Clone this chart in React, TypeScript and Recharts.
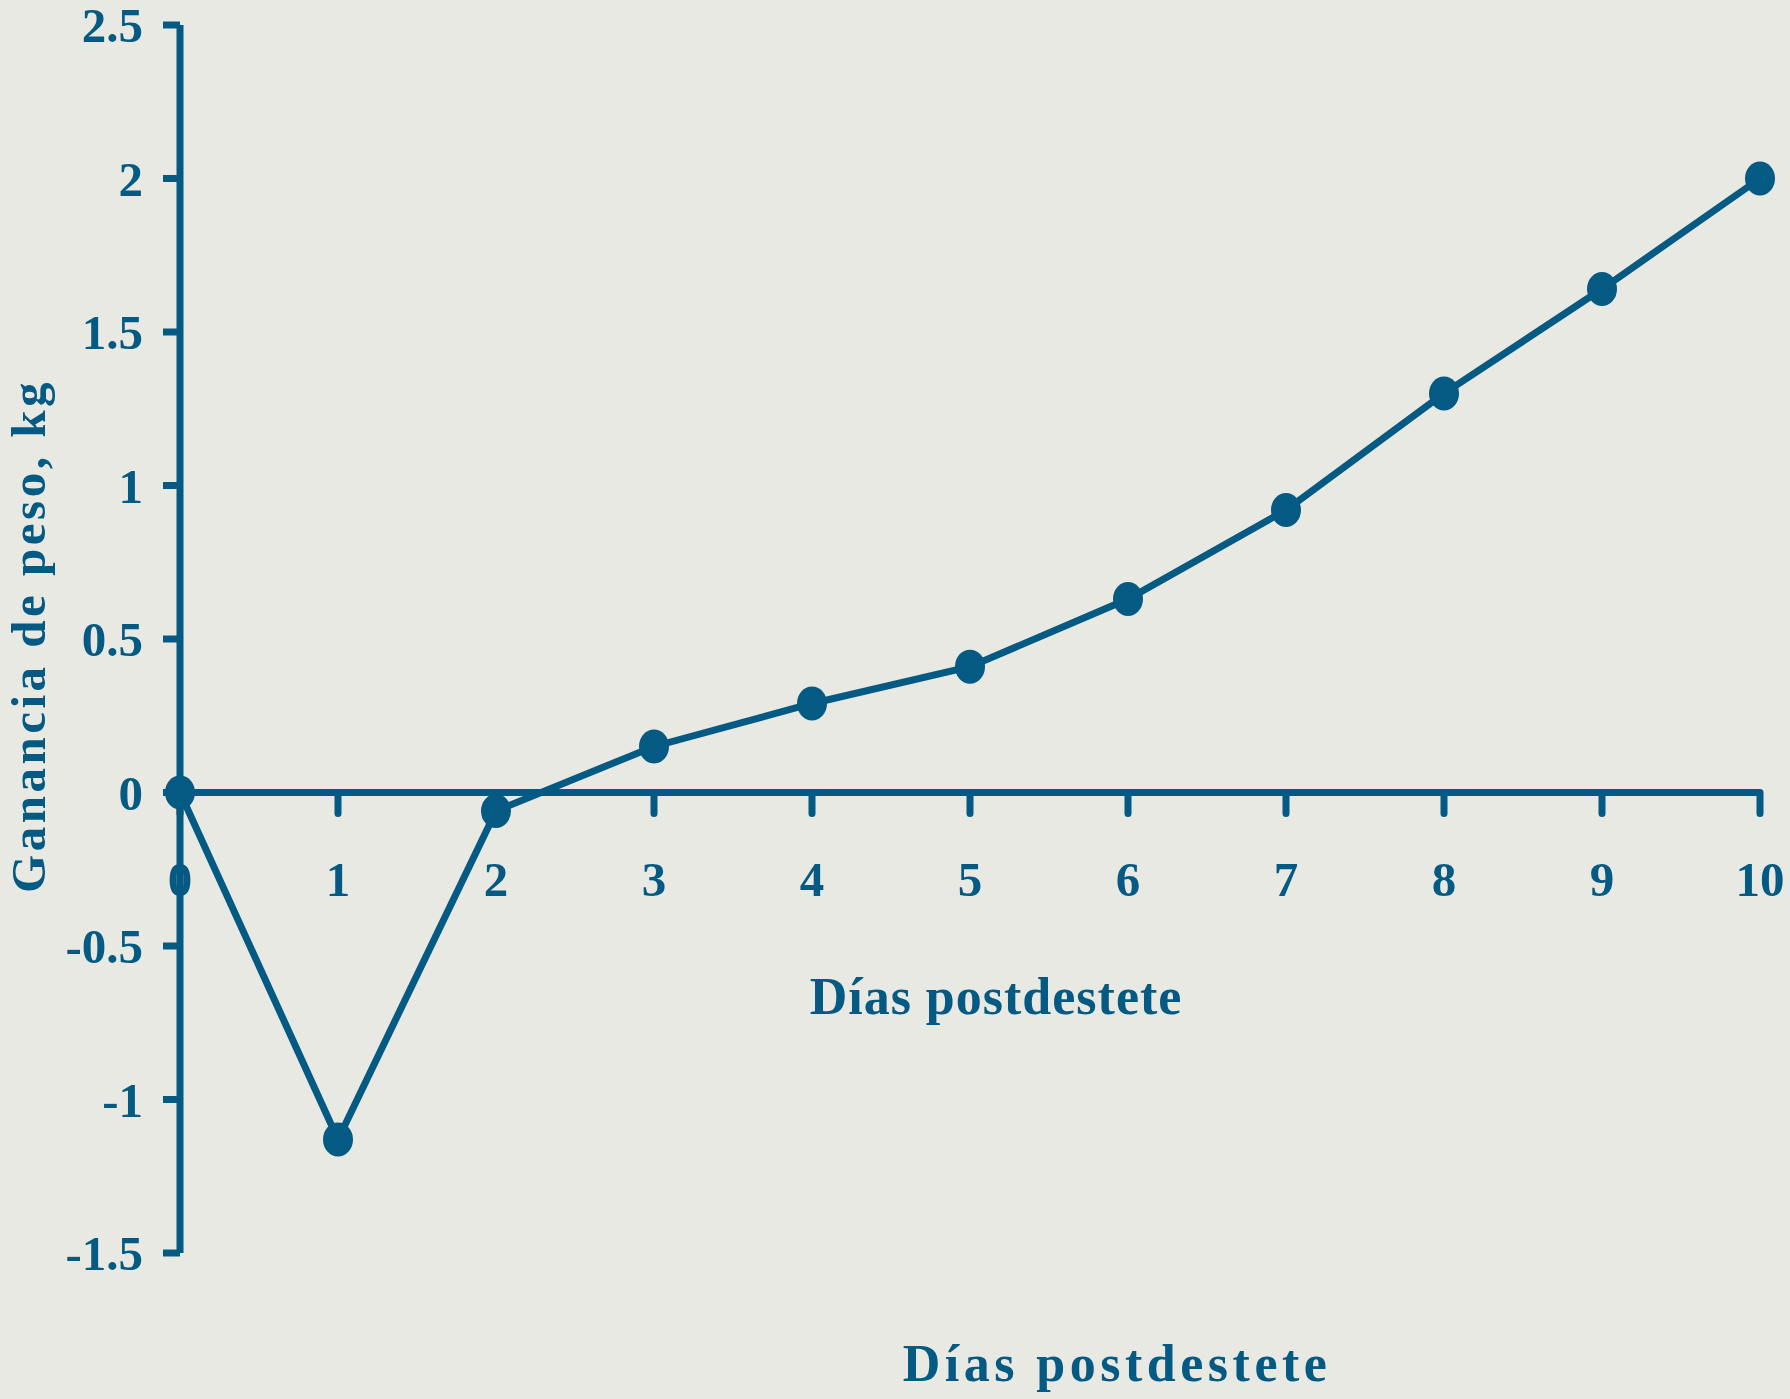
import React from "react";
import {
  LineChart,
  Line,
  XAxis,
  YAxis,
  ReferenceLine,
  ReferenceDot,
  Customized,
} from "recharts";

const days = [0, 1, 2, 3, 4, 5, 6, 7, 8, 9, 10];
const gain = [0, -1.13, -0.06, 0.15, 0.29, 0.41, 0.63, 0.92, 1.3, 1.64, 2.0];
const yTicks = [-1.5, -1, -0.5, 0, 0.5, 1, 1.5, 2, 2.5];
const xTickLabels = ["0", "1", "2", "3", "4", "5", "6", "7", "8", "9", "10"];
const yTitle = "Ganancia de peso, kg";
const xTitle = "Días postdestete";

const data = days.map((d, i) => ({ day: d, gain: gain[i] }));

const BLUE = "#045a82";
const BG = "#e9e9e3";
const FONT = "'Liberation Serif', 'Times New Roman', serif";

function EllipseDot(props: any) {
  const { cx, cy, index } = props;
  if (cx == null || cy == null) return null;
  return <ellipse key={`dot-${index}`} cx={cx} cy={cy} rx={15} ry={17} fill={BLUE} />;
}

function makeXTick(label: string) {
  return function XTick(p: any) {
    return (
      <g>
        <line
          x1={p.cx}
          y1={p.cy}
          x2={p.cx}
          y2={p.cy + 21}
          stroke={BLUE}
          strokeWidth={7}
          strokeLinecap="round"
        />
        <text
          x={p.cx}
          y={p.cy + 103}
          textAnchor="middle"
          fill={BLUE}
          fontFamily={FONT}
          fontWeight="bold"
          fontSize={49}
        >
          {label}
        </text>
      </g>
    );
  };
}

function YTitle(props: any) {
  const vb = props.viewBox || { x: 0, y: 0, width: 0, height: 0 };
  const x = vb.x + 28;
  const y = vb.y + vb.height / 2 - 3;
  return (
    <text
      x={x}
      y={y}
      transform={`rotate(-90, ${x}, ${y})`}
      textAnchor="middle"
      dominantBaseline="central"
      fill={BLUE}
      fontFamily={FONT}
      fontWeight="bold"
      fontSize={49}
      letterSpacing={3.5}
    >
      {yTitle}
    </text>
  );
}

function Captions() {
  return (
    <g fill={BLUE} fontFamily={FONT} fontWeight="bold" fontSize={52}>
      <text x={996} y={1014} textAnchor="middle" letterSpacing={1}>
        {xTitle}
      </text>
      <text x={1117} y={1381} textAnchor="middle" letterSpacing={4.5}>
        {xTitle}
      </text>
    </g>
  );
}

export default function App() {
  return (
    <div
      style={{
        position: "absolute",
        left: 0,
        top: 0,
        width: 1790,
        height: 1399,
        background: BG,
      }}
    >
      <LineChart
        width={1790}
        height={1399}
        data={data}
        margin={{ top: 25, right: 30, bottom: 146, left: 0 }}
      >
        <XAxis dataKey="day" type="number" domain={[0, 10]} hide />
        <YAxis
          type="number"
          domain={[-1.5, 2.5]}
          ticks={yTicks}
          interval={0}
          width={180}
          axisLine={{ stroke: BLUE, strokeWidth: 7 }}
          tickLine={{ stroke: BLUE, strokeWidth: 7 }}
          tickSize={17}
          tickMargin={20}
          tick={{
            fill: BLUE,
            fontFamily: FONT,
            fontWeight: "bold",
            fontSize: 49,
          }}
          label={{ content: <YTitle /> }}
        />
        <ReferenceLine y={0} stroke={BLUE} strokeWidth={7} />
        {days.map((d, i) => (
          <ReferenceDot
            key={`xt-${d}`}
            x={d}
            y={0}
            r={0}
            shape={makeXTick(xTickLabels[i])}
          />
        ))}
        <Line
          type="linear"
          dataKey="gain"
          stroke={BLUE}
          strokeWidth={7}
          dot={<EllipseDot />}
          activeDot={false}
          isAnimationActive={false}
        />
        <Customized component={Captions} />
      </LineChart>
    </div>
  );
}
